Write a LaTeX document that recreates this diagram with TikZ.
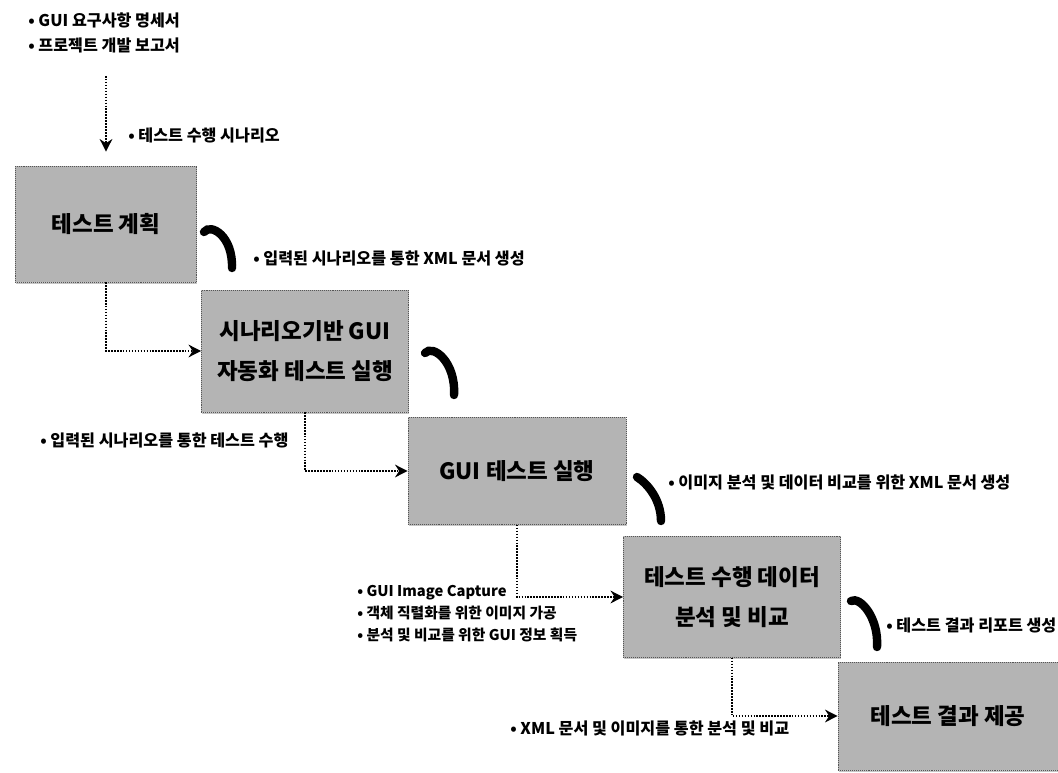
\documentclass[tikz,border=0pt]{standalone}
\usepackage{fontspec}
\setmainfont{Noto Sans CJK KR}
\usetikzlibrary{arrows.meta,positioning,calc,shadows}
\definecolor{boxgray}{RGB}{180,180,180}
\definecolor{boxline}{RGB}{85,85,85}

\begin{document}
\begin{tikzpicture}[x=0.025cm,y=-0.025cm,
  stagebox/.style={draw=boxline,densely dotted,fill=boxgray,align=center,inner sep=0pt,
    font=\fontsize{16}{28}\selectfont\bfseries,
    drop shadow={opacity=0.45,shadow xshift=0.6pt,shadow yshift=-1.2pt}},
  note/.style={anchor=west,inner sep=0pt,align=left,font=\fontsize{11.5}{15.6}\selectfont\bfseries},
  flow/.style={densely dotted,line width=1.1pt,-{Stealth[length=9pt,width=9pt]}},
  hook/.style={line width=6pt,line cap=round}]
\useasboundingbox (0,0) rectangle (1058,773);

\node[note] (reqnote) at (28,20) {• GUI 요구사항 명세서};
\node[note] (devnote) at (28,45) {• 프로젝트 개발 보고서};
\coordinate (src) at (106,76);

\node[stagebox,minimum width=4.525cm,minimum height=2.9cm] (plan) at (106,224) {테스트 계획};
\node[stagebox,minimum width=5.175cm,minimum height=3.05cm] (scen) at (305,351) {시나리오기반 GUI\\자동화 테스트 실행};
\node[stagebox,minimum width=5.45cm,minimum height=2.675cm] (exec) at (517,471) {GUI 테스트 실행};
\node[stagebox,minimum width=5.425cm,minimum height=3.025cm] (anal) at (732,597) {테스트 수행 데이터\\분석 및 비교};
\node[stagebox,minimum width=5.5cm,minimum height=2.7cm] (result) at (948,716) {테스트 결과 제공};

\node[note] (scnnote) at (128,135) {• 테스트 수행 시나리오};
\node[note] (xmlnote) at (253,258) {• 입력된 시나리오를 통한 XML 문서 생성};
\node[note] (runnote) at (40,440) {• 입력된 시나리오를 통한 테스트 수행};
\node[note] (imgnote) at (668,482) {• 이미지 분석 및 데이터 비교를 위한 XML 문서 생성};
\node[note,font=\fontsize{10.5}{15.6}\selectfont\bfseries] (capnote) at (357,614) {• GUI Image Capture\\• 객체 직렬화를 위한 이미지 가공\\• 분석 및 비교를 위한 GUI 정보 획득};
\node[note] (reportnote) at (886,625) {• 테스트 결과 리포트 생성};
\node[note] (cmpnote) at (510,728) {• XML 문서 및 이미지를 통한 분석 및 비교};

\draw[flow,shorten >=0.35cm] (src) -- (plan.north);
\draw[flow] (plan.south) |- (scen.west);
\draw[flow] (scen.south) |- (exec.west);
\draw[flow] (exec.south) |- (anal.west);
\draw[flow] (anal.south) |- (result.west);

\draw[hook] (204,232) .. controls (211,223) and (233,236) .. (232,268);
\draw[hook] (425,353) .. controls (433,344) and (456,362) .. (454,395);
\draw[hook] (637,477) .. controls (648,484) and (661,500) .. (661,521);
\draw[hook] (851,601) .. controls (860,596) and (879,618) .. (877,647);
\end{tikzpicture}
\end{document}
